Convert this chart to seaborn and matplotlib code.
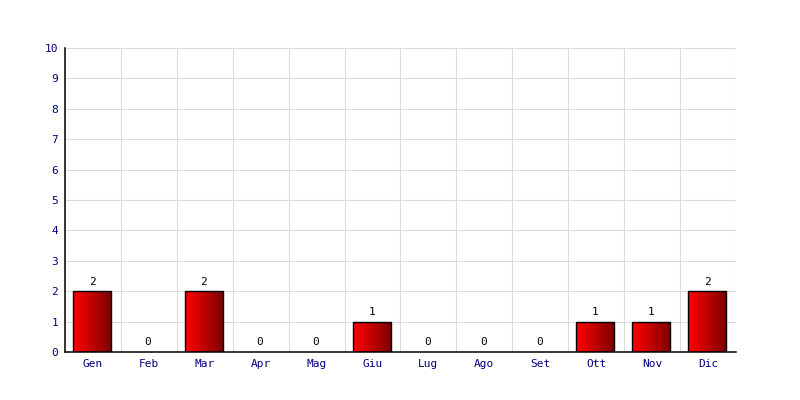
import matplotlib

matplotlib.use("Agg")

import matplotlib.pyplot as plt
import numpy as np
import pandas as pd
import seaborn as sns
from matplotlib.colors import LinearSegmentedColormap

months = ["Gen", "Feb", "Mar", "Apr", "Mag", "Giu", "Lug", "Ago", "Set", "Ott", "Nov", "Dic"]
counts = [2, 0, 2, 0, 0, 1, 0, 0, 0, 1, 1, 2]
y_ticks = list(range(0, 11))

df = pd.DataFrame({"month": months, "count": counts})

sns.set_style("white")
plt.rcParams["font.family"] = ["DejaVu Sans Mono"]

fig = plt.figure(figsize=(8, 4), dpi=100)
ax = fig.add_axes([0.08125, 0.12, 0.83875, 0.76])

sns.barplot(data=df, x="month", y="count", color="#e00000", width=0.68,
            edgecolor="black", linewidth=1, ax=ax, zorder=3)

# horizontal red gradient inside each bar
grad = LinearSegmentedColormap.from_list("redgrad", ["#ff0000", "#c00000", "#7a0000"])
gradient = np.linspace(0, 1, 64).reshape(1, -1)
for patch in ax.patches:
    h = patch.get_height()
    if h <= 0:
        patch.set_visible(False)
        continue
    x0 = patch.get_x() - 0.015
    w = patch.get_width()
    patch.set_x(x0)
    patch.set_facecolor("none")
    img = ax.imshow(gradient, cmap=grad, aspect="auto", extent=(x0, x0 + w, 0, h),
                    zorder=2.5, interpolation="nearest")
    img.set_clip_path(patch)

for i, v in enumerate(counts):
    ax.text(i - 0.015, v + 0.15, str(v), ha="center", va="bottom", fontsize=8, color="black", zorder=5)

ax.set_xlim(-0.5, len(months) - 0.5)
ax.set_ylim(0, 10)
ax.set_yticks(y_ticks)
ax.set_xticks(range(len(months)))
ax.set_xticklabels(months)
ax.set_xlabel("")
ax.set_ylabel("")
ax.tick_params(axis="both", length=0, labelsize=8, labelcolor="#000080", pad=5)

# grid: horizontal at each integer, vertical at category boundaries
for y in y_ticks:
    ax.axhline(y, color="#dcdcdc", linewidth=0.8, zorder=1)
for xb in np.arange(-0.5, len(months), 1.0):
    ax.axvline(xb, color="#dcdcdc", linewidth=0.8, zorder=1)

for side in ["top", "right"]:
    ax.spines[side].set_visible(False)
for side in ["left", "bottom"]:
    ax.spines[side].set_color("black")
    ax.spines[side].set_linewidth(1.1)
    ax.spines[side].set_zorder(6)

fig.savefig("out.png", dpi=100)
